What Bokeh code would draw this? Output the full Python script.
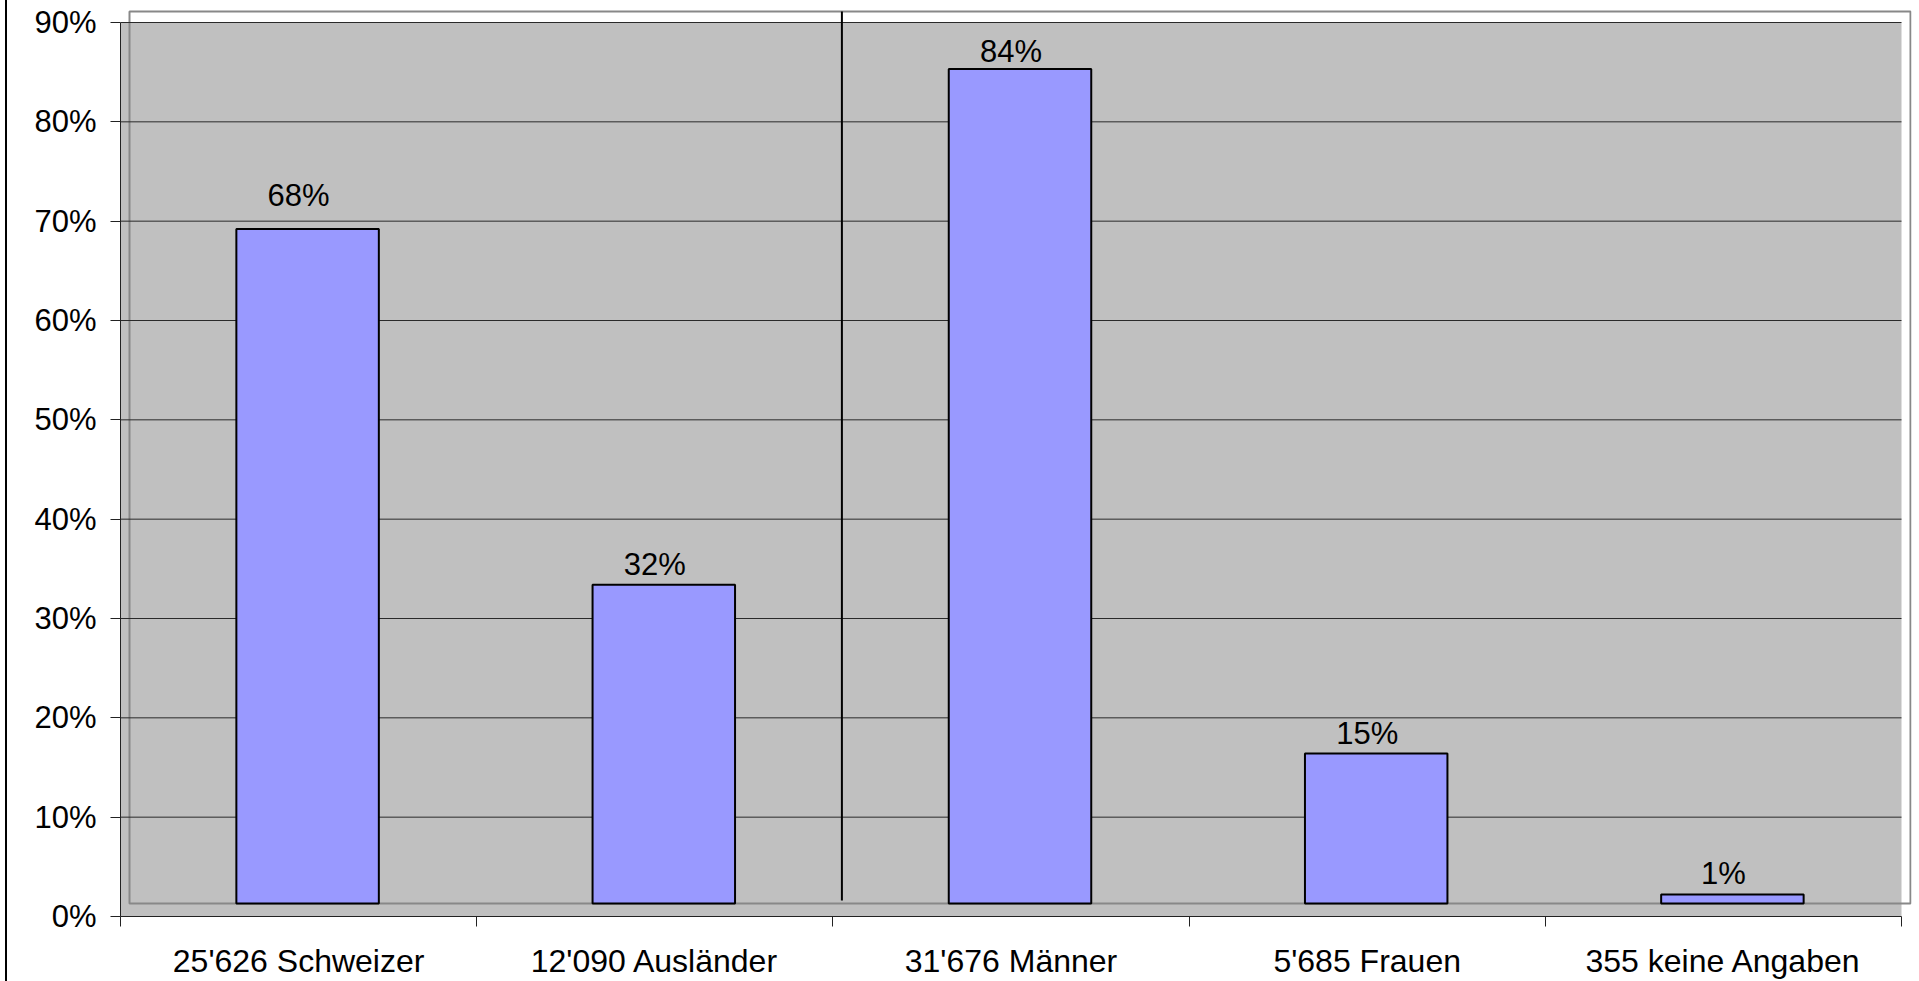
from bokeh.plotting import figure
from bokeh.layouts import row
from bokeh.models import (ColumnDataSource, FixedTicker, NumeralTickFormatter, Range1d, Spacer)
from bokeh.core.properties import value
from bokeh.embed import file_html
from bokeh.resources import INLINE

# ---------------- data ----------------
categories = ["25'626 Schweizer", "12'090 Ausländer", "31'676 Männer", "5'685 Frauen", "355 keine Angaben"]
shares = [0.679, 0.321, 0.840, 0.151, 0.009]
share_labels = ["68%", "32%", "84%", "15%", "1%"]
y_ticks = [0.0, 0.1, 0.2, 0.3, 0.4, 0.5, 0.6, 0.7, 0.8, 0.9]
group_divider_after = 2  # divider between nationality and gender groups

# ---------------- layout constants ----------------
PX_X = 356.2          # px per category
PX_Y = 993.33         # px per 1.0 (100%)
WALL_DX = 9 / PX_X    # back wall offset (pseudo depth)
WALL_DY = 13 / PX_Y
WALL_TOP = 0.9 + 11 / PX_Y
label_gap_px = [-34, -20, -18, -20, -21]
FONT = "Liberation Sans"
FS = "31px"
FS_CAT = "32px"

n = len(categories)
W, H = 1912, 981
p = figure(width=W, height=H, output_backend="svg", toolbar_location=None,
           x_range=Range1d(0, n + 10 / PX_X), y_range=Range1d(0, 907 / PX_Y),
           min_border_left=113, min_border_right=8, min_border_top=9, min_border_bottom=65,
           background_fill_color="white", border_fill_color="white")
p.outline_line_color = None
p.xgrid.visible = False
p.ygrid.visible = False

# plot area (gray)
p.quad(left=[0], right=[n], bottom=[0], top=[y_ticks[-1]], fill_color="#C0C0C0", line_color=None)
# back wall outline
p.quad(left=[WALL_DX], right=[n + WALL_DX], bottom=[WALL_DY], top=[WALL_TOP],
       fill_color=None, line_color="#888888", line_width=2)
# gridlines
gl = [t for t in y_ticks if t > 0]
p.segment(x0=[0] * len(gl), x1=[n] * len(gl), y0=gl, y1=gl, line_color="#2a2a2a", line_width=1)

# bars (drawn on the back wall)
centers = [i + 0.5 for i in range(n)]
src = ColumnDataSource(dict(
    x=[c + WALL_DX for c in centers],
    bottom=[WALL_DY] * n,
    top=[WALL_DY + s for s in shares],
    lx=centers,
    ly=[WALL_DY + s for s in shares],
    lab=share_labels,
    dy=label_gap_px,
))
p.vbar(x="x", width=0.4, bottom="bottom", top="top", source=src,
       fill_color="#9999FF", line_color="black", line_width=2)

# divider line between groups
p.segment(x0=[group_divider_after + WALL_DX], x1=[group_divider_after + WALL_DX],
          y0=[16 / PX_Y], y1=[WALL_TOP], line_color="black", line_width=2)

# data labels
p.text(x="lx", y="ly", text="lab", y_offset="dy", source=src, text_align="center",
       text_baseline="alphabetic", text_font=value(FONT), text_font_size=FS, text_color="black")

# x axis
xa = p.xaxis[0]
xa.ticker = FixedTicker(ticks=centers, minor_ticks=list(range(n + 1)))
xa.major_label_overrides = {c: cat for c, cat in zip(centers, categories)}
xa.bounds = (0, n)
xa.major_tick_line_color = None
xa.major_tick_out = 0
xa.major_tick_in = 0
xa.minor_tick_out = 10
xa.minor_tick_in = 0
xa.minor_tick_line_color = "#222222"
xa.axis_line_color = "#222222"
xa.major_label_standoff = 16
xa.major_label_text_font = FONT
xa.major_label_text_font_size = FS_CAT
xa.major_label_text_color = "black"

# y axis
ya = p.yaxis[0]
ya.ticker = FixedTicker(ticks=y_ticks)
ya.formatter = NumeralTickFormatter(format="0%")
ya.bounds = (0, y_ticks[-1])
ya.major_tick_out = 10
ya.major_tick_in = 0
ya.minor_tick_line_color = None
ya.major_tick_line_color = "#222222"
ya.axis_line_color = "#222222"
ya.major_label_standoff = 14
ya.major_label_text_font = FONT
ya.major_label_text_font_size = FS
ya.major_label_text_color = "black"

# chart-area left border line
gap = Spacer(width=5, height=H, margin=0)
border = Spacer(width=2, height=H, margin=0, background="black")
layout = row(gap, border, p, spacing=0)

open("out.html", "w").write(file_html(layout, INLINE))
